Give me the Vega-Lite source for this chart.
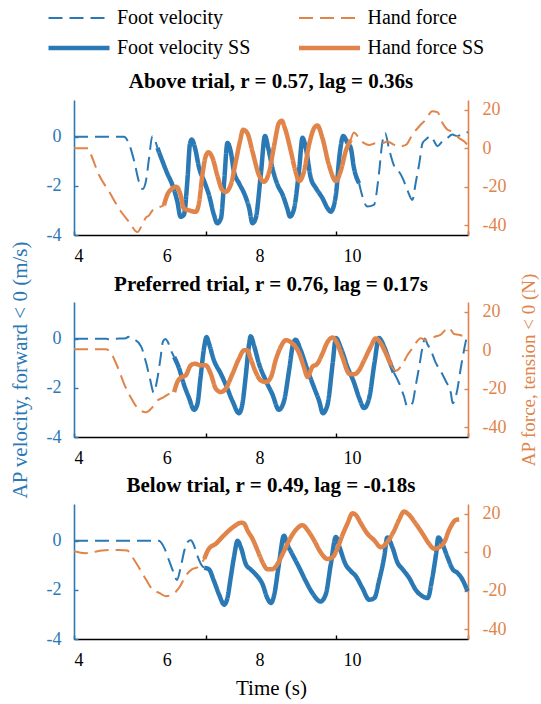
{
"$schema":"https://vega.github.io/schema/vega-lite/v6.json",
"padding":{"left":9,"top":8,"right":3,"bottom":5},
"config":{"font":"Liberation Serif","view":{"stroke":null},"axis":{"grid":false},
 "legend":{"orient":"none","direction":"horizontal","legendX":-35.5,"legendY":-92,"columns":2,"columnPadding":38.5,"rowPadding":10,"symbolType":"M0,0H12.2","symbolSize":100,"labelFontSize":20,"labelFont":"Liberation Serif","labelColor":"black","labelOffset":58.5,"labelLimit":300,"padding":0}},
"datasets":{"d":[
{"p":1,"s":"Foot velocity","g":"a","t":4.0,"y":0},{"p":1,"s":"Foot velocity","g":"a","t":5.08,"y":0},{"p":1,"s":"Foot velocity","g":"a","t":5.19,"y":-0.31},{"p":1,"s":"Foot velocity","g":"a","t":5.30,"y":-1.0},{"p":1,"s":"Foot velocity","g":"a","t":5.40,"y":-1.82},{"p":1,"s":"Foot velocity","g":"a","t":5.48,"y":-2.13},{"p":1,"s":"Foot velocity","g":"a","t":5.55,"y":-1.82},{"p":1,"s":"Foot velocity","g":"a","t":5.62,"y":-0.86},{"p":1,"s":"Foot velocity","g":"a","t":5.69,"y":0.03},{"p":1,"s":"Foot velocity","g":"a","t":5.75,"y":-0.15},{"p":1,"s":"Foot velocity","g":"a","t":5.80,"y":-0.45},
{"p":1,"s":"Foot velocity SS","g":"s","t":5.80,"y":-0.45},{"p":1,"s":"Foot velocity SS","g":"s","t":5.91,"y":-1.0},{"p":1,"s":"Foot velocity SS","g":"s","t":6.01,"y":-1.48},{"p":1,"s":"Foot velocity SS","g":"s","t":6.12,"y":-1.95},{"p":1,"s":"Foot velocity SS","g":"s","t":6.23,"y":-2.64},{"p":1,"s":"Foot velocity SS","g":"s","t":6.30,"y":-3.26},{"p":1,"s":"Foot velocity SS","g":"s","t":6.37,"y":-3.18},{"p":1,"s":"Foot velocity SS","g":"s","t":6.45,"y":-1.68},{"p":1,"s":"Foot velocity SS","g":"s","t":6.50,"y":-0.31},{"p":1,"s":"Foot velocity SS","g":"s","t":6.54,"y":-0.11},{"p":1,"s":"Foot velocity SS","g":"s","t":6.61,"y":-0.45},{"p":1,"s":"Foot velocity SS","g":"s","t":6.70,"y":-1.27},{"p":1,"s":"Foot velocity SS","g":"s","t":6.81,"y":-1.82},{"p":1,"s":"Foot velocity SS","g":"s","t":6.91,"y":-2.36},{"p":1,"s":"Foot velocity SS","g":"s","t":7.02,"y":-3.18},{"p":1,"s":"Foot velocity SS","g":"s","t":7.09,"y":-3.52},{"p":1,"s":"Foot velocity SS","g":"s","t":7.17,"y":-3.32},{"p":1,"s":"Foot velocity SS","g":"s","t":7.24,"y":-1.82},{"p":1,"s":"Foot velocity SS","g":"s","t":7.31,"y":-0.25},{"p":1,"s":"Foot velocity SS","g":"s","t":7.38,"y":-0.59},{"p":1,"s":"Foot velocity SS","g":"s","t":7.45,"y":-1.41},{"p":1,"s":"Foot velocity SS","g":"s","t":7.56,"y":-1.89},{"p":1,"s":"Foot velocity SS","g":"s","t":7.67,"y":-2.30},{"p":1,"s":"Foot velocity SS","g":"s","t":7.78,"y":-2.91},{"p":1,"s":"Foot velocity SS","g":"s","t":7.85,"y":-3.52},{"p":1,"s":"Foot velocity SS","g":"s","t":7.92,"y":-3.32},{"p":1,"s":"Foot velocity SS","g":"s","t":8.03,"y":-1.54},{"p":1,"s":"Foot velocity SS","g":"s","t":8.12,"y":0.03},{"p":1,"s":"Foot velocity SS","g":"s","t":8.19,"y":-0.45},{"p":1,"s":"Foot velocity SS","g":"s","t":8.28,"y":-1.27},{"p":1,"s":"Foot velocity SS","g":"s","t":8.39,"y":-1.95},{"p":1,"s":"Foot velocity SS","g":"s","t":8.50,"y":-2.36},{"p":1,"s":"Foot velocity SS","g":"s","t":8.60,"y":-2.91},{"p":1,"s":"Foot velocity SS","g":"s","t":8.66,"y":-3.25},{"p":1,"s":"Foot velocity SS","g":"s","t":8.75,"y":-2.91},{"p":1,"s":"Foot velocity SS","g":"s","t":8.86,"y":-1.27},{"p":1,"s":"Foot velocity SS","g":"s","t":8.93,"y":-0.04},{"p":1,"s":"Foot velocity SS","g":"s","t":9.00,"y":-0.45},{"p":1,"s":"Foot velocity SS","g":"s","t":9.11,"y":-1.68},{"p":1,"s":"Foot velocity SS","g":"s","t":9.22,"y":-2.09},{"p":1,"s":"Foot velocity SS","g":"s","t":9.36,"y":-2.50},{"p":1,"s":"Foot velocity SS","g":"s","t":9.47,"y":-2.91},{"p":1,"s":"Foot velocity SS","g":"s","t":9.54,"y":-3.05},{"p":1,"s":"Foot velocity SS","g":"s","t":9.65,"y":-2.36},{"p":1,"s":"Foot velocity SS","g":"s","t":9.73,"y":-0.72},{"p":1,"s":"Foot velocity SS","g":"s","t":9.81,"y":0.03},{"p":1,"s":"Foot velocity SS","g":"s","t":9.90,"y":-0.25},{"p":1,"s":"Foot velocity SS","g":"s","t":9.97,"y":-0.45},{"p":1,"s":"Foot velocity SS","g":"s","t":10.04,"y":-1.27},{"p":1,"s":"Foot velocity SS","g":"s","t":10.15,"y":-1.89},
{"p":1,"s":"Foot velocity","g":"b","t":10.15,"y":-1.89},{"p":1,"s":"Foot velocity","g":"b","t":10.33,"y":-2.84},{"p":1,"s":"Foot velocity","g":"b","t":10.47,"y":-2.77},{"p":1,"s":"Foot velocity","g":"b","t":10.58,"y":-1.48},{"p":1,"s":"Foot velocity","g":"b","t":10.65,"y":-0.25},{"p":1,"s":"Foot velocity","g":"b","t":10.71,"y":0.16},{"p":1,"s":"Foot velocity","g":"b","t":10.80,"y":-0.52},{"p":1,"s":"Foot velocity","g":"b","t":10.91,"y":-1.20},{"p":1,"s":"Foot velocity","g":"b","t":10.98,"y":-1.34},{"p":1,"s":"Foot velocity","g":"b","t":11.09,"y":-1.68},{"p":1,"s":"Foot velocity","g":"b","t":11.19,"y":-2.16},{"p":1,"s":"Foot velocity","g":"b","t":11.30,"y":-2.57},{"p":1,"s":"Foot velocity","g":"b","t":11.37,"y":-1.89},{"p":1,"s":"Foot velocity","g":"b","t":11.45,"y":-1.07},{"p":1,"s":"Foot velocity","g":"b","t":11.52,"y":-0.25},{"p":1,"s":"Foot velocity","g":"b","t":11.59,"y":-0.11},{"p":1,"s":"Foot velocity","g":"b","t":11.70,"y":0.03},{"p":1,"s":"Foot velocity","g":"b","t":11.77,"y":-0.18},{"p":1,"s":"Foot velocity","g":"b","t":11.84,"y":-0.38},{"p":1,"s":"Foot velocity","g":"b","t":11.95,"y":-0.18},{"p":1,"s":"Foot velocity","g":"b","t":12.06,"y":-0.04},{"p":1,"s":"Foot velocity","g":"b","t":12.16,"y":0.09},{"p":1,"s":"Foot velocity","g":"b","t":12.27,"y":0.03},{"p":1,"s":"Foot velocity","g":"b","t":12.42,"y":0.16},{"p":1,"s":"Foot velocity","g":"b","t":12.5,"y":0.19},
{"p":1,"s":"Hand force","g":"a","t":4.0,"y":0},{"p":1,"s":"Hand force","g":"a","t":4.3,"y":0},{"p":1,"s":"Hand force","g":"a","t":4.36,"y":-3},{"p":1,"s":"Hand force","g":"a","t":4.54,"y":-13.9},{"p":1,"s":"Hand force","g":"a","t":4.76,"y":-22.6},{"p":1,"s":"Hand force","g":"a","t":4.97,"y":-31.3},{"p":1,"s":"Hand force","g":"a","t":5.19,"y":-38.3},{"p":1,"s":"Hand force","g":"a","t":5.37,"y":-43.5},{"p":1,"s":"Hand force","g":"a","t":5.48,"y":-39.1},{"p":1,"s":"Hand force","g":"a","t":5.55,"y":-36},{"p":1,"s":"Hand force","g":"a","t":5.62,"y":-34.8},{"p":1,"s":"Hand force","g":"a","t":5.70,"y":-32},{"p":1,"s":"Hand force","g":"a","t":5.76,"y":-31.3},{"p":1,"s":"Hand force","g":"a","t":5.85,"y":-30.5},{"p":1,"s":"Hand force","g":"a","t":5.94,"y":-29.6},
{"p":1,"s":"Hand force SS","g":"s","t":5.94,"y":-29.6},{"p":1,"s":"Hand force SS","g":"s","t":6.01,"y":-24.3},{"p":1,"s":"Hand force SS","g":"s","t":6.12,"y":-20.9},{"p":1,"s":"Hand force SS","g":"s","t":6.21,"y":-20.0},{"p":1,"s":"Hand force SS","g":"s","t":6.30,"y":-24.3},{"p":1,"s":"Hand force SS","g":"s","t":6.37,"y":-31.3},{"p":1,"s":"Hand force SS","g":"s","t":6.48,"y":-32.2},{"p":1,"s":"Hand force SS","g":"s","t":6.63,"y":-33.0},{"p":1,"s":"Hand force SS","g":"s","t":6.70,"y":-27.8},{"p":1,"s":"Hand force SS","g":"s","t":6.77,"y":-13.9},{"p":1,"s":"Hand force SS","g":"s","t":6.84,"y":-4.3},{"p":1,"s":"Hand force SS","g":"s","t":6.90,"y":-2.1},{"p":1,"s":"Hand force SS","g":"s","t":6.99,"y":-5.2},{"p":1,"s":"Hand force SS","g":"s","t":7.09,"y":-13.9},{"p":1,"s":"Hand force SS","g":"s","t":7.20,"y":-21.7},{"p":1,"s":"Hand force SS","g":"s","t":7.27,"y":-22.6},{"p":1,"s":"Hand force SS","g":"s","t":7.38,"y":-19.1},{"p":1,"s":"Hand force SS","g":"s","t":7.49,"y":-7.0},{"p":1,"s":"Hand force SS","g":"s","t":7.58,"y":3.5},{"p":1,"s":"Hand force SS","g":"s","t":7.65,"y":9.6},{"p":1,"s":"Hand force SS","g":"s","t":7.74,"y":7.8},{"p":1,"s":"Hand force SS","g":"s","t":7.85,"y":-1.7},{"p":1,"s":"Hand force SS","g":"s","t":7.99,"y":-13.9},{"p":1,"s":"Hand force SS","g":"s","t":8.10,"y":-17.4},{"p":1,"s":"Hand force SS","g":"s","t":8.21,"y":-12.2},{"p":1,"s":"Hand force SS","g":"s","t":8.32,"y":1.7},{"p":1,"s":"Hand force SS","g":"s","t":8.42,"y":13.0},{"p":1,"s":"Hand force SS","g":"s","t":8.48,"y":14.3},{"p":1,"s":"Hand force SS","g":"s","t":8.55,"y":10.4},{"p":1,"s":"Hand force SS","g":"s","t":8.68,"y":-1.7},{"p":1,"s":"Hand force SS","g":"s","t":8.78,"y":-12.2},{"p":1,"s":"Hand force SS","g":"s","t":8.86,"y":-17.0},{"p":1,"s":"Hand force SS","g":"s","t":8.96,"y":-12.2},{"p":1,"s":"Hand force SS","g":"s","t":9.07,"y":1.7},{"p":1,"s":"Hand force SS","g":"s","t":9.18,"y":10.4},{"p":1,"s":"Hand force SS","g":"s","t":9.25,"y":11.8},{"p":1,"s":"Hand force SS","g":"s","t":9.36,"y":5.2},{"p":1,"s":"Hand force SS","g":"s","t":9.50,"y":-8.7},{"p":1,"s":"Hand force SS","g":"s","t":9.65,"y":-17.0},{"p":1,"s":"Hand force SS","g":"s","t":9.76,"y":-11.3},{"p":1,"s":"Hand force SS","g":"s","t":9.86,"y":-1.7},{"p":1,"s":"Hand force SS","g":"s","t":9.97,"y":4.3},
{"p":1,"s":"Hand force","g":"b","t":9.97,"y":4.3},{"p":1,"s":"Hand force","g":"b","t":10.04,"y":8.2},{"p":1,"s":"Hand force","g":"b","t":10.15,"y":5.2},{"p":1,"s":"Hand force","g":"b","t":10.26,"y":2.6},{"p":1,"s":"Hand force","g":"b","t":10.37,"y":1.7},{"p":1,"s":"Hand force","g":"b","t":10.51,"y":2.6},{"p":1,"s":"Hand force","g":"b","t":10.65,"y":2.6},{"p":1,"s":"Hand force","g":"b","t":10.76,"y":3.5},{"p":1,"s":"Hand force","g":"b","t":10.91,"y":1.7},{"p":1,"s":"Hand force","g":"b","t":11.01,"y":0.9},{"p":1,"s":"Hand force","g":"b","t":11.16,"y":1.7},{"p":1,"s":"Hand force","g":"b","t":11.30,"y":7.0},{"p":1,"s":"Hand force","g":"b","t":11.45,"y":11.4},{"p":1,"s":"Hand force","g":"b","t":11.59,"y":14.9},{"p":1,"s":"Hand force","g":"b","t":11.73,"y":19.2},{"p":1,"s":"Hand force","g":"b","t":11.84,"y":18.7},{"p":1,"s":"Hand force","g":"b","t":11.95,"y":13.1},{"p":1,"s":"Hand force","g":"b","t":12.06,"y":9.6},{"p":1,"s":"Hand force","g":"b","t":12.16,"y":8.7},{"p":1,"s":"Hand force","g":"b","t":12.31,"y":5.2},{"p":1,"s":"Hand force","g":"b","t":12.42,"y":3.5},{"p":1,"s":"Hand force","g":"b","t":12.49,"y":1.7},

{"p":2,"s":"Foot velocity","g":"a","t":4.0,"y":0},{"p":2,"s":"Foot velocity","g":"a","t":4.7,"y":0},{"p":2,"s":"Foot velocity","g":"a","t":4.78,"y":-0.03},{"p":2,"s":"Foot velocity","g":"a","t":4.85,"y":0},{"p":2,"s":"Foot velocity","g":"a","t":5.12,"y":0.02},{"p":2,"s":"Foot velocity","g":"a","t":5.17,"y":0.08},{"p":2,"s":"Foot velocity","g":"a","t":5.22,"y":0},{"p":2,"s":"Foot velocity","g":"a","t":5.32,"y":-0.05},{"p":2,"s":"Foot velocity","g":"a","t":5.45,"y":-0.32},{"p":2,"s":"Foot velocity","g":"a","t":5.56,"y":-1.01},{"p":2,"s":"Foot velocity","g":"a","t":5.64,"y":-1.64},{"p":2,"s":"Foot velocity","g":"a","t":5.72,"y":-2.19},{"p":2,"s":"Foot velocity","g":"a","t":5.79,"y":-1.71},{"p":2,"s":"Foot velocity","g":"a","t":5.86,"y":-0.87},{"p":2,"s":"Foot velocity","g":"a","t":5.92,"y":-0.11},{"p":2,"s":"Foot velocity","g":"a","t":5.97,"y":-0.01},{"p":2,"s":"Foot velocity","g":"a","t":6.02,"y":-0.11},{"p":2,"s":"Foot velocity","g":"a","t":6.09,"y":-0.46},{"p":2,"s":"Foot velocity","g":"a","t":6.16,"y":-0.74},
{"p":2,"s":"Foot velocity SS","g":"s","t":6.16,"y":-0.74},{"p":2,"s":"Foot velocity SS","g":"s","t":6.27,"y":-1.22},{"p":2,"s":"Foot velocity SS","g":"s","t":6.37,"y":-1.85},{"p":2,"s":"Foot velocity SS","g":"s","t":6.48,"y":-2.40},{"p":2,"s":"Foot velocity SS","g":"s","t":6.59,"y":-2.89},{"p":2,"s":"Foot velocity SS","g":"s","t":6.66,"y":-2.68},{"p":2,"s":"Foot velocity SS","g":"s","t":6.73,"y":-1.57},{"p":2,"s":"Foot velocity SS","g":"s","t":6.81,"y":-0.32},{"p":2,"s":"Foot velocity SS","g":"s","t":6.86,"y":0.07},{"p":2,"s":"Foot velocity SS","g":"s","t":6.91,"y":-0.18},{"p":2,"s":"Foot velocity SS","g":"s","t":7.02,"y":-0.88},{"p":2,"s":"Foot velocity SS","g":"s","t":7.17,"y":-1.43},{"p":2,"s":"Foot velocity SS","g":"s","t":7.27,"y":-1.85},{"p":2,"s":"Foot velocity SS","g":"s","t":7.42,"y":-2.54},{"p":2,"s":"Foot velocity SS","g":"s","t":7.56,"y":-3.03},{"p":2,"s":"Foot velocity SS","g":"s","t":7.63,"y":-2.68},{"p":2,"s":"Foot velocity SS","g":"s","t":7.71,"y":-1.43},{"p":2,"s":"Foot velocity SS","g":"s","t":7.78,"y":-0.18},{"p":2,"s":"Foot velocity SS","g":"s","t":7.81,"y":0.10},{"p":2,"s":"Foot velocity SS","g":"s","t":7.89,"y":-0.32},{"p":2,"s":"Foot velocity SS","g":"s","t":7.99,"y":-1.01},{"p":2,"s":"Foot velocity SS","g":"s","t":8.14,"y":-1.71},{"p":2,"s":"Foot velocity SS","g":"s","t":8.28,"y":-2.26},{"p":2,"s":"Foot velocity SS","g":"s","t":8.42,"y":-2.89},{"p":2,"s":"Foot velocity SS","g":"s","t":8.53,"y":-2.54},{"p":2,"s":"Foot velocity SS","g":"s","t":8.64,"y":-1.29},{"p":2,"s":"Foot velocity SS","g":"s","t":8.73,"y":-0.18},{"p":2,"s":"Foot velocity SS","g":"s","t":8.78,"y":-0.04},{"p":2,"s":"Foot velocity SS","g":"s","t":8.89,"y":-0.46},{"p":2,"s":"Foot velocity SS","g":"s","t":9.04,"y":-1.29},{"p":2,"s":"Foot velocity SS","g":"s","t":9.18,"y":-1.99},{"p":2,"s":"Foot velocity SS","g":"s","t":9.29,"y":-2.54},{"p":2,"s":"Foot velocity SS","g":"s","t":9.37,"y":-3.03},{"p":2,"s":"Foot velocity SS","g":"s","t":9.47,"y":-2.68},{"p":2,"s":"Foot velocity SS","g":"s","t":9.58,"y":-1.01},{"p":2,"s":"Foot velocity SS","g":"s","t":9.65,"y":0.03},{"p":2,"s":"Foot velocity SS","g":"s","t":9.76,"y":-0.39},{"p":2,"s":"Foot velocity SS","g":"s","t":9.90,"y":-1.15},{"p":2,"s":"Foot velocity SS","g":"s","t":10.04,"y":-1.78},{"p":2,"s":"Foot velocity SS","g":"s","t":10.15,"y":-2.40},{"p":2,"s":"Foot velocity SS","g":"s","t":10.26,"y":-2.82},{"p":2,"s":"Foot velocity SS","g":"s","t":10.37,"y":-2.40},{"p":2,"s":"Foot velocity SS","g":"s","t":10.48,"y":-1.01},{"p":2,"s":"Foot velocity SS","g":"s","t":10.58,"y":0.03},{"p":2,"s":"Foot velocity SS","g":"s","t":10.69,"y":-0.32},{"p":2,"s":"Foot velocity SS","g":"s","t":10.80,"y":-0.88},{"p":2,"s":"Foot velocity SS","g":"s","t":10.90,"y":-1.37},
{"p":2,"s":"Foot velocity","g":"b","t":10.90,"y":-1.37},{"p":2,"s":"Foot velocity","g":"b","t":11.01,"y":-1.79},{"p":2,"s":"Foot velocity","g":"b","t":11.12,"y":-2.35},{"p":2,"s":"Foot velocity","g":"b","t":11.19,"y":-2.76},{"p":2,"s":"Foot velocity","g":"b","t":11.30,"y":-2.62},{"p":2,"s":"Foot velocity","g":"b","t":11.37,"y":-1.93},{"p":2,"s":"Foot velocity","g":"b","t":11.45,"y":-1.10},{"p":2,"s":"Foot velocity","g":"b","t":11.52,"y":-0.33},{"p":2,"s":"Foot velocity","g":"b","t":11.57,"y":0.01},{"p":2,"s":"Foot velocity","g":"b","t":11.62,"y":-0.20},{"p":2,"s":"Foot velocity","g":"b","t":11.70,"y":-0.47},{"p":2,"s":"Foot velocity","g":"b","t":11.80,"y":-0.96},{"p":2,"s":"Foot velocity","g":"b","t":11.91,"y":-1.31},{"p":2,"s":"Foot velocity","g":"b","t":12.02,"y":-1.72},{"p":2,"s":"Foot velocity","g":"b","t":12.13,"y":-2.21},{"p":2,"s":"Foot velocity","g":"b","t":12.17,"y":-2.62},{"p":2,"s":"Foot velocity","g":"b","t":12.27,"y":-2.07},{"p":2,"s":"Foot velocity","g":"b","t":12.34,"y":-1.24},{"p":2,"s":"Foot velocity","g":"b","t":12.42,"y":-0.40},{"p":2,"s":"Foot velocity","g":"b","t":12.49,"y":0.22},
{"p":2,"s":"Hand force","g":"a","t":4.0,"y":0.5},{"p":2,"s":"Hand force","g":"a","t":4.68,"y":0.5},{"p":2,"s":"Hand force","g":"a","t":4.79,"y":-0.9},{"p":2,"s":"Hand force","g":"a","t":4.86,"y":-4.3},{"p":2,"s":"Hand force","g":"a","t":4.97,"y":-10.4},{"p":2,"s":"Hand force","g":"a","t":5.08,"y":-17.4},{"p":2,"s":"Hand force","g":"a","t":5.22,"y":-24.3},{"p":2,"s":"Hand force","g":"a","t":5.33,"y":-28.7},{"p":2,"s":"Hand force","g":"a","t":5.44,"y":-31.3},{"p":2,"s":"Hand force","g":"a","t":5.55,"y":-32.2},{"p":2,"s":"Hand force","g":"a","t":5.66,"y":-30.4},{"p":2,"s":"Hand force","g":"a","t":5.80,"y":-26.1},{"p":2,"s":"Hand force","g":"a","t":5.94,"y":-24.3},{"p":2,"s":"Hand force","g":"a","t":6.05,"y":-22.6},{"p":2,"s":"Hand force","g":"a","t":6.16,"y":-21.7},
{"p":2,"s":"Hand force SS","g":"s","t":6.16,"y":-21.7},{"p":2,"s":"Hand force SS","g":"s","t":6.23,"y":-16.5},{"p":2,"s":"Hand force SS","g":"s","t":6.30,"y":-14.3},{"p":2,"s":"Hand force SS","g":"s","t":6.41,"y":-13.0},{"p":2,"s":"Hand force SS","g":"s","t":6.52,"y":-7.8},{"p":2,"s":"Hand force SS","g":"s","t":6.61,"y":-7.0},{"p":2,"s":"Hand force SS","g":"s","t":6.73,"y":-7.8},{"p":2,"s":"Hand force SS","g":"s","t":6.84,"y":-7.8},{"p":2,"s":"Hand force SS","g":"s","t":6.95,"y":-12.2},{"p":2,"s":"Hand force SS","g":"s","t":7.06,"y":-20.0},{"p":2,"s":"Hand force SS","g":"s","t":7.17,"y":-21.7},{"p":2,"s":"Hand force SS","g":"s","t":7.27,"y":-20.0},{"p":2,"s":"Hand force SS","g":"s","t":7.42,"y":-12.2},{"p":2,"s":"Hand force SS","g":"s","t":7.56,"y":-4.3},{"p":2,"s":"Hand force SS","g":"s","t":7.67,"y":0.0},{"p":2,"s":"Hand force SS","g":"s","t":7.74,"y":0.0},{"p":2,"s":"Hand force SS","g":"s","t":7.81,"y":-4.3},{"p":2,"s":"Hand force SS","g":"s","t":7.92,"y":-11.3},{"p":2,"s":"Hand force SS","g":"s","t":8.03,"y":-15.7},{"p":2,"s":"Hand force SS","g":"s","t":8.14,"y":-16.5},{"p":2,"s":"Hand force SS","g":"s","t":8.25,"y":-13.9},{"p":2,"s":"Hand force SS","g":"s","t":8.35,"y":-5.2},{"p":2,"s":"Hand force SS","g":"s","t":8.46,"y":1.7},{"p":2,"s":"Hand force SS","g":"s","t":8.57,"y":5.2},{"p":2,"s":"Hand force SS","g":"s","t":8.71,"y":3.5},{"p":2,"s":"Hand force SS","g":"s","t":8.86,"y":-1.7},{"p":2,"s":"Hand force SS","g":"s","t":8.96,"y":-8.7},{"p":2,"s":"Hand force SS","g":"s","t":9.04,"y":-13.9},{"p":2,"s":"Hand force SS","g":"s","t":9.14,"y":-8.7},{"p":2,"s":"Hand force SS","g":"s","t":9.25,"y":-7.0},{"p":2,"s":"Hand force SS","g":"s","t":9.36,"y":-1.7},{"p":2,"s":"Hand force SS","g":"s","t":9.47,"y":4.3},{"p":2,"s":"Hand force SS","g":"s","t":9.58,"y":6.6},{"p":2,"s":"Hand force SS","g":"s","t":9.68,"y":3.5},{"p":2,"s":"Hand force SS","g":"s","t":9.79,"y":-3.5},{"p":2,"s":"Hand force SS","g":"s","t":9.94,"y":-12.2},{"p":2,"s":"Hand force SS","g":"s","t":10.04,"y":-12.5},{"p":2,"s":"Hand force SS","g":"s","t":10.15,"y":-10.4},{"p":2,"s":"Hand force SS","g":"s","t":10.26,"y":-5.2},{"p":2,"s":"Hand force SS","g":"s","t":10.40,"y":1.7},{"p":2,"s":"Hand force SS","g":"s","t":10.51,"y":6.1},{"p":2,"s":"Hand force SS","g":"s","t":10.62,"y":3.5},{"p":2,"s":"Hand force SS","g":"s","t":10.73,"y":-1.7},{"p":2,"s":"Hand force SS","g":"s","t":10.84,"y":-7.8},
{"p":2,"s":"Hand force","g":"b","t":10.84,"y":-7.8},{"p":2,"s":"Hand force","g":"b","t":10.94,"y":-10.7},{"p":2,"s":"Hand force","g":"b","t":11.09,"y":-7.1},{"p":2,"s":"Hand force","g":"b","t":11.19,"y":-2.7},{"p":2,"s":"Hand force","g":"b","t":11.27,"y":0},{"p":2,"s":"Hand force","g":"b","t":11.37,"y":3.6},{"p":2,"s":"Hand force","g":"b","t":11.48,"y":6.2},{"p":2,"s":"Hand force","g":"b","t":11.59,"y":5.3},{"p":2,"s":"Hand force","g":"b","t":11.70,"y":6.2},{"p":2,"s":"Hand force","g":"b","t":11.80,"y":7.1},{"p":2,"s":"Hand force","g":"b","t":11.91,"y":8.0},{"p":2,"s":"Hand force","g":"b","t":12.02,"y":10.7},{"p":2,"s":"Hand force","g":"b","t":12.09,"y":11.6},{"p":2,"s":"Hand force","g":"b","t":12.20,"y":8.4},{"p":2,"s":"Hand force","g":"b","t":12.31,"y":8.0},{"p":2,"s":"Hand force","g":"b","t":12.42,"y":7.1},

{"p":3,"s":"Foot velocity","g":"a","t":4.0,"y":0},{"p":3,"s":"Foot velocity","g":"a","t":5.83,"y":0},{"p":3,"s":"Foot velocity","g":"a","t":5.95,"y":-0.3},{"p":3,"s":"Foot velocity","g":"a","t":6.05,"y":-0.8},{"p":3,"s":"Foot velocity","g":"a","t":6.15,"y":-1.3},{"p":3,"s":"Foot velocity","g":"a","t":6.22,"y":-1.6},{"p":3,"s":"Foot velocity","g":"a","t":6.30,"y":-1.1},{"p":3,"s":"Foot velocity","g":"a","t":6.38,"y":-0.4},{"p":3,"s":"Foot velocity","g":"a","t":6.45,"y":-0.05},{"p":3,"s":"Foot velocity","g":"a","t":6.52,"y":0.02},{"p":3,"s":"Foot velocity","g":"a","t":6.58,"y":-0.15},{"p":3,"s":"Foot velocity","g":"a","t":6.66,"y":-0.6},{"p":3,"s":"Foot velocity","g":"a","t":6.74,"y":-0.95},{"p":3,"s":"Foot velocity","g":"a","t":6.81,"y":-1.1},
{"p":3,"s":"Foot velocity SS","g":"s","t":6.81,"y":-1.10},{"p":3,"s":"Foot velocity SS","g":"s","t":6.91,"y":-1.16},{"p":3,"s":"Foot velocity SS","g":"s","t":7.02,"y":-1.64},{"p":3,"s":"Foot velocity SS","g":"s","t":7.13,"y":-2.19},{"p":3,"s":"Foot velocity SS","g":"s","t":7.24,"y":-2.60},{"p":3,"s":"Foot velocity SS","g":"s","t":7.31,"y":-2.33},{"p":3,"s":"Foot velocity SS","g":"s","t":7.38,"y":-1.51},{"p":3,"s":"Foot velocity SS","g":"s","t":7.45,"y":-0.68},{"p":3,"s":"Foot velocity SS","g":"s","t":7.53,"y":0.0},{"p":3,"s":"Foot velocity SS","g":"s","t":7.60,"y":-0.27},{"p":3,"s":"Foot velocity SS","g":"s","t":7.71,"y":-0.96},{"p":3,"s":"Foot velocity SS","g":"s","t":7.81,"y":-1.16},{"p":3,"s":"Foot velocity SS","g":"s","t":7.92,"y":-1.37},{"p":3,"s":"Foot velocity SS","g":"s","t":8.07,"y":-1.78},{"p":3,"s":"Foot velocity SS","g":"s","t":8.17,"y":-2.33},{"p":3,"s":"Foot velocity SS","g":"s","t":8.25,"y":-2.53},{"p":3,"s":"Foot velocity SS","g":"s","t":8.32,"y":-2.19},{"p":3,"s":"Foot velocity SS","g":"s","t":8.42,"y":-0.96},{"p":3,"s":"Foot velocity SS","g":"s","t":8.53,"y":0.21},{"p":3,"s":"Foot velocity SS","g":"s","t":8.60,"y":-0.14},{"p":3,"s":"Foot velocity SS","g":"s","t":8.71,"y":-0.55},{"p":3,"s":"Foot velocity SS","g":"s","t":8.86,"y":-1.10},{"p":3,"s":"Foot velocity SS","g":"s","t":9.00,"y":-1.64},{"p":3,"s":"Foot velocity SS","g":"s","t":9.14,"y":-2.12},{"p":3,"s":"Foot velocity SS","g":"s","t":9.32,"y":-2.47},{"p":3,"s":"Foot velocity SS","g":"s","t":9.43,"y":-2.19},{"p":3,"s":"Foot velocity SS","g":"s","t":9.54,"y":-0.96},{"p":3,"s":"Foot velocity SS","g":"s","t":9.65,"y":0.16},{"p":3,"s":"Foot velocity SS","g":"s","t":9.73,"y":-0.27},{"p":3,"s":"Foot velocity SS","g":"s","t":9.86,"y":-0.96},{"p":3,"s":"Foot velocity SS","g":"s","t":9.97,"y":-1.23},{"p":3,"s":"Foot velocity SS","g":"s","t":10.08,"y":-1.44},{"p":3,"s":"Foot velocity SS","g":"s","t":10.22,"y":-1.92},{"p":3,"s":"Foot velocity SS","g":"s","t":10.37,"y":-2.40},{"p":3,"s":"Foot velocity SS","g":"s","t":10.48,"y":-2.33},{"p":3,"s":"Foot velocity SS","g":"s","t":10.58,"y":-1.64},{"p":3,"s":"Foot velocity SS","g":"s","t":10.69,"y":-0.68},{"p":3,"s":"Foot velocity SS","g":"s","t":10.76,"y":0.14},{"p":3,"s":"Foot velocity SS","g":"s","t":10.87,"y":-0.27},{"p":3,"s":"Foot velocity SS","g":"s","t":10.98,"y":-0.89},{"p":3,"s":"Foot velocity SS","g":"s","t":11.09,"y":-1.16},{"p":3,"s":"Foot velocity SS","g":"s","t":11.23,"y":-1.51},{"p":3,"s":"Foot velocity SS","g":"s","t":11.37,"y":-1.99},{"p":3,"s":"Foot velocity SS","g":"s","t":11.52,"y":-2.26},{"p":3,"s":"Foot velocity SS","g":"s","t":11.63,"y":-2.33},{"p":3,"s":"Foot velocity SS","g":"s","t":11.73,"y":-1.51},{"p":3,"s":"Foot velocity SS","g":"s","t":11.81,"y":-0.55},{"p":3,"s":"Foot velocity SS","g":"s","t":11.86,"y":0.14},{"p":3,"s":"Foot velocity SS","g":"s","t":11.95,"y":-0.14},{"p":3,"s":"Foot velocity SS","g":"s","t":12.06,"y":-0.68},{"p":3,"s":"Foot velocity SS","g":"s","t":12.17,"y":-1.16},{"p":3,"s":"Foot velocity SS","g":"s","t":12.27,"y":-1.30},{"p":3,"s":"Foot velocity SS","g":"s","t":12.38,"y":-1.58},{"p":3,"s":"Foot velocity SS","g":"s","t":12.49,"y":-2.05},
{"p":3,"s":"Hand force","g":"a","t":4.0,"y":0.5},{"p":3,"s":"Hand force","g":"a","t":4.25,"y":-0.5},{"p":3,"s":"Hand force","g":"a","t":4.40,"y":0},{"p":3,"s":"Hand force","g":"a","t":4.61,"y":0.9},{"p":3,"s":"Hand force","g":"a","t":4.97,"y":1.2},{"p":3,"s":"Hand force","g":"a","t":5.15,"y":0.9},{"p":3,"s":"Hand force","g":"a","t":5.26,"y":-2.6},{"p":3,"s":"Hand force","g":"a","t":5.40,"y":-7.9},{"p":3,"s":"Hand force","g":"a","t":5.55,"y":-14.0},{"p":3,"s":"Hand force","g":"a","t":5.69,"y":-19.3},{"p":3,"s":"Hand force","g":"a","t":5.84,"y":-21.1},{"p":3,"s":"Hand force","g":"a","t":5.98,"y":-22.8},{"p":3,"s":"Hand force","g":"a","t":6.12,"y":-21.9},{"p":3,"s":"Hand force","g":"a","t":6.27,"y":-18.4},{"p":3,"s":"Hand force","g":"a","t":6.41,"y":-12.3},{"p":3,"s":"Hand force","g":"a","t":6.55,"y":-8.8},{"p":3,"s":"Hand force","g":"a","t":6.66,"y":-7.9},{"p":3,"s":"Hand force","g":"a","t":6.81,"y":-3.5},
{"p":3,"s":"Hand force SS","g":"s","t":6.81,"y":-3.5},{"p":3,"s":"Hand force SS","g":"s","t":6.91,"y":1.8},{"p":3,"s":"Hand force SS","g":"s","t":7.06,"y":4.4},{"p":3,"s":"Hand force SS","g":"s","t":7.20,"y":7.9},{"p":3,"s":"Hand force SS","g":"s","t":7.35,"y":11.4},{"p":3,"s":"Hand force SS","g":"s","t":7.49,"y":14.0},{"p":3,"s":"Hand force SS","g":"s","t":7.60,"y":15.3},{"p":3,"s":"Hand force SS","g":"s","t":7.67,"y":14.9},{"p":3,"s":"Hand force SS","g":"s","t":7.74,"y":11.4},{"p":3,"s":"Hand force SS","g":"s","t":7.85,"y":7.0},{"p":3,"s":"Hand force SS","g":"s","t":7.96,"y":0.9},{"p":3,"s":"Hand force SS","g":"s","t":8.07,"y":-5.3},{"p":3,"s":"Hand force SS","g":"s","t":8.17,"y":-8.8},{"p":3,"s":"Hand force SS","g":"s","t":8.28,"y":-8.8},{"p":3,"s":"Hand force SS","g":"s","t":8.39,"y":-6.1},{"p":3,"s":"Hand force SS","g":"s","t":8.50,"y":-0.9},{"p":3,"s":"Hand force SS","g":"s","t":8.64,"y":6.1},{"p":3,"s":"Hand force SS","g":"s","t":8.78,"y":11.4},{"p":3,"s":"Hand force SS","g":"s","t":8.93,"y":14.0},{"p":3,"s":"Hand force SS","g":"s","t":9.04,"y":11.4},{"p":3,"s":"Hand force SS","g":"s","t":9.18,"y":6.1},{"p":3,"s":"Hand force SS","g":"s","t":9.32,"y":0},{"p":3,"s":"Hand force SS","g":"s","t":9.47,"y":-3.5},{"p":3,"s":"Hand force SS","g":"s","t":9.58,"y":-2.6},{"p":3,"s":"Hand force SS","g":"s","t":9.68,"y":1.8},{"p":3,"s":"Hand force SS","g":"s","t":9.79,"y":8.8},{"p":3,"s":"Hand force SS","g":"s","t":9.90,"y":14.9},{"p":3,"s":"Hand force SS","g":"s","t":10.01,"y":20.2},{"p":3,"s":"Hand force SS","g":"s","t":10.08,"y":19.3},{"p":3,"s":"Hand force SS","g":"s","t":10.19,"y":14.9},{"p":3,"s":"Hand force SS","g":"s","t":10.33,"y":9.6},{"p":3,"s":"Hand force SS","g":"s","t":10.48,"y":6.1},{"p":3,"s":"Hand force SS","g":"s","t":10.62,"y":2.6},{"p":3,"s":"Hand force SS","g":"s","t":10.76,"y":5.3},{"p":3,"s":"Hand force SS","g":"s","t":10.91,"y":11.4},{"p":3,"s":"Hand force SS","g":"s","t":11.01,"y":16.7},{"p":3,"s":"Hand force SS","g":"s","t":11.12,"y":21.1},{"p":3,"s":"Hand force SS","g":"s","t":11.23,"y":19.3},{"p":3,"s":"Hand force SS","g":"s","t":11.37,"y":14.9},{"p":3,"s":"Hand force SS","g":"s","t":11.52,"y":9.6},{"p":3,"s":"Hand force SS","g":"s","t":11.66,"y":4.4},{"p":3,"s":"Hand force SS","g":"s","t":11.77,"y":1.8},{"p":3,"s":"Hand force SS","g":"s","t":11.88,"y":2.6},{"p":3,"s":"Hand force SS","g":"s","t":11.99,"y":5.3},{"p":3,"s":"Hand force SS","g":"s","t":12.09,"y":11.4},{"p":3,"s":"Hand force SS","g":"s","t":12.24,"y":16.7},{"p":3,"s":"Hand force SS","g":"s","t":12.31,"y":17.0}
]},
"data":{"name":"d"},
"spacing":67,
"bounds":"flush",
"resolve":{"scale":{"color":"shared","strokeDash":"shared","strokeWidth":"shared"},"legend":{"color":"shared","strokeDash":"shared","strokeWidth":"shared"}},
"vconcat":[
{"title":{"text":"Above trial, r = 0.57, lag = 0.36s","fontSize":21,"fontWeight":"bold","font":"Liberation Serif","color":"black","offset":8},
 "width":394,"height":135,
 "layer":[
  {"transform":[{"filter":"datum.p==1 && (datum.s=='Foot velocity' || datum.s=='Foot velocity SS')"}],
   "mark":{"type":"line","interpolate":"monotone","strokeJoin":"round","strokeCap":"butt"},
   "encoding":{
    "x":{"field":"t","type":"quantitative","scale":{"domain":[4,12.5],"nice":false,"zero":false},"axis":{"orient":"bottom","values":[4,6.848,9.653,12.5],"labels":false,"title":null,"domainColor":"black","domainWidth":1.6,"tickColor":"black","tickWidth":1.4,"tickSize":-4}},
    "y":{"field":"y","type":"quantitative","scale":{"domain":[-4,1.5],"nice":false,"zero":false},"axis":{"values":[-4,-2,0],"labelExpr":"'' + datum.value","title":null,"domainColor":"#2a78b4","domainWidth":1.6,"tickColor":"#2a78b4","tickWidth":1.4,"tickSize":-4,"labelColor":"#2a78b4","labelFontSize":18,"labelFont":"Liberation Serif","labelPadding":17}},
    "color":{"field":"s","type":"nominal","scale":{"domain":["Foot velocity","Hand force","Foot velocity SS","Hand force SS"],"range":["#2a78b4","#e0844a","#2a78b4","#e0844a"]},"legend":{"title":null,"values":["Foot velocity","Hand force","Foot velocity SS","Hand force SS"]}},
    "strokeDash":{"field":"s","type":"nominal","scale":{"domain":["Foot velocity","Hand force","Foot velocity SS","Hand force SS"],"range":[[14,7],[14,7],[1,0],[1,0]]},"legend":{"title":null,"values":["Foot velocity","Hand force","Foot velocity SS","Hand force SS"]}},
    "strokeWidth":{"field":"s","type":"nominal","scale":{"type":"ordinal","domain":["Foot velocity","Hand force","Foot velocity SS","Hand force SS"],"range":[2,2,4.5,4.5]},"legend":{"title":null,"values":["Foot velocity","Hand force","Foot velocity SS","Hand force SS"]}},
    "detail":{"field":"g"}
   }},
  {"transform":[{"filter":"datum.p==1 && (datum.s=='Hand force' || datum.s=='Hand force SS')"}],
   "mark":{"type":"line","interpolate":"monotone","strokeJoin":"round","strokeCap":"butt"},
   "encoding":{
    "x":{"field":"t","type":"quantitative","axis":{"orient":"bottom","values":[4,6,8,10],"ticks":false,"domain":false,"title":null,"labelColor":"black","labelFontSize":18,"labelFont":"Liberation Serif","labelPadding":12}},
    "y":{"field":"y","type":"quantitative","scale":{"domain":[-45,25],"nice":false,"zero":false},"axis":{"orient":"right","values":[-40,-20,0,20],"labelExpr":"'' + datum.value","title":null,"domainColor":"#e0844a","domainWidth":1.6,"tickColor":"#e0844a","tickWidth":1.4,"tickSize":-4,"labelColor":"#e0844a","labelFontSize":18,"labelFont":"Liberation Serif","labelPadding":18}},
    "color":{"field":"s","type":"nominal","scale":{"domain":["Foot velocity","Hand force","Foot velocity SS","Hand force SS"],"range":["#2a78b4","#e0844a","#2a78b4","#e0844a"]},"legend":{"title":null,"values":["Foot velocity","Hand force","Foot velocity SS","Hand force SS"]}},
    "strokeDash":{"field":"s","type":"nominal","scale":{"domain":["Foot velocity","Hand force","Foot velocity SS","Hand force SS"],"range":[[14,7],[14,7],[1,0],[1,0]]},"legend":{"title":null,"values":["Foot velocity","Hand force","Foot velocity SS","Hand force SS"]}},
    "strokeWidth":{"field":"s","type":"nominal","scale":{"type":"ordinal","domain":["Foot velocity","Hand force","Foot velocity SS","Hand force SS"],"range":[2,2,4.5,4.5]},"legend":{"title":null,"values":["Foot velocity","Hand force","Foot velocity SS","Hand force SS"]}},
    "detail":{"field":"g"}
   }}
 ],
 "resolve":{"scale":{"y":"independent"},"axis":{"x":"independent"}}
},
{"title":{"text":"Preferred trial, r = 0.76, lag = 0.17s","fontSize":21,"fontWeight":"bold","font":"Liberation Serif","color":"black","offset":8,"dy":62},
 "width":394,"height":135,
 "layer":[
  {"transform":[{"filter":"datum.p==2 && (datum.s=='Foot velocity' || datum.s=='Foot velocity SS')"}],
   "mark":{"type":"line","interpolate":"monotone","strokeJoin":"round","strokeCap":"butt"},
   "encoding":{
    "x":{"field":"t","type":"quantitative","scale":{"domain":[4,12.5],"nice":false,"zero":false},"axis":{"orient":"bottom","values":[4,6.848,9.653,12.5],"labels":false,"title":null,"domainColor":"black","domainWidth":1.6,"tickColor":"black","tickWidth":1.4,"tickSize":-4}},
    "y":{"field":"y","type":"quantitative","scale":{"domain":[-4,1.5],"nice":false,"zero":false},"axis":{"values":[-4,-2,0],"labelExpr":"'' + datum.value","title":"AP velocity, forward < 0 (m/s)","titleColor":"#2a78b4","titleFontSize":21,"titleFontWeight":"normal","titleFont":"Liberation Serif","titlePadding":16,"domainColor":"#2a78b4","domainWidth":1.6,"tickColor":"#2a78b4","tickWidth":1.4,"tickSize":-4,"labelColor":"#2a78b4","labelFontSize":18,"labelFont":"Liberation Serif","labelPadding":17}},
    "color":{"field":"s","type":"nominal","scale":{"domain":["Foot velocity","Hand force","Foot velocity SS","Hand force SS"],"range":["#2a78b4","#e0844a","#2a78b4","#e0844a"]},"legend":{"title":null,"values":["Foot velocity","Hand force","Foot velocity SS","Hand force SS"]}},
    "strokeDash":{"field":"s","type":"nominal","scale":{"domain":["Foot velocity","Hand force","Foot velocity SS","Hand force SS"],"range":[[14,7],[14,7],[1,0],[1,0]]},"legend":{"title":null,"values":["Foot velocity","Hand force","Foot velocity SS","Hand force SS"]}},
    "strokeWidth":{"field":"s","type":"nominal","scale":{"type":"ordinal","domain":["Foot velocity","Hand force","Foot velocity SS","Hand force SS"],"range":[2,2,4.5,4.5]},"legend":{"title":null,"values":["Foot velocity","Hand force","Foot velocity SS","Hand force SS"]}},
    "detail":{"field":"g"}
   }},
  {"transform":[{"filter":"datum.p==2 && (datum.s=='Hand force' || datum.s=='Hand force SS')"}],
   "mark":{"type":"line","interpolate":"monotone","strokeJoin":"round","strokeCap":"butt"},
   "encoding":{
    "x":{"field":"t","type":"quantitative","axis":{"orient":"bottom","values":[4,6,8,10],"ticks":false,"domain":false,"title":null,"labelColor":"black","labelFontSize":18,"labelFont":"Liberation Serif","labelPadding":12}},
    "y":{"field":"y","type":"quantitative","scale":{"domain":[-45,25],"nice":false,"zero":false},"axis":{"orient":"right","values":[-40,-20,0,20],"labelExpr":"'' + datum.value","title":"AP force, tension < 0 (N)","titleAngle":270,"titleBaseline":"top","titleColor":"#e0844a","titleFontSize":19,"titleFontWeight":"normal","titleFont":"Liberation Serif","titlePadding":14,"domainColor":"#e0844a","domainWidth":1.6,"tickColor":"#e0844a","tickWidth":1.4,"tickSize":-4,"labelColor":"#e0844a","labelFontSize":18,"labelFont":"Liberation Serif","labelPadding":18}},
    "color":{"field":"s","type":"nominal","scale":{"domain":["Foot velocity","Hand force","Foot velocity SS","Hand force SS"],"range":["#2a78b4","#e0844a","#2a78b4","#e0844a"]},"legend":{"title":null,"values":["Foot velocity","Hand force","Foot velocity SS","Hand force SS"]}},
    "strokeDash":{"field":"s","type":"nominal","scale":{"domain":["Foot velocity","Hand force","Foot velocity SS","Hand force SS"],"range":[[14,7],[14,7],[1,0],[1,0]]},"legend":{"title":null,"values":["Foot velocity","Hand force","Foot velocity SS","Hand force SS"]}},
    "strokeWidth":{"field":"s","type":"nominal","scale":{"type":"ordinal","domain":["Foot velocity","Hand force","Foot velocity SS","Hand force SS"],"range":[2,2,4.5,4.5]},"legend":{"title":null,"values":["Foot velocity","Hand force","Foot velocity SS","Hand force SS"]}},
    "detail":{"field":"g"}
   }}
 ],
 "resolve":{"scale":{"y":"independent"},"axis":{"x":"independent"}}
},
{"title":{"text":"Below trial, r = 0.49, lag = -0.18s","fontSize":21,"fontWeight":"bold","font":"Liberation Serif","color":"black","offset":8},
 "width":394,"height":135,
 "layer":[
  {"transform":[{"filter":"datum.p==3 && (datum.s=='Foot velocity' || datum.s=='Foot velocity SS')"}],
   "mark":{"type":"line","interpolate":"monotone","strokeJoin":"round","strokeCap":"butt"},
   "encoding":{
    "x":{"field":"t","type":"quantitative","scale":{"domain":[4,12.5],"nice":false,"zero":false},"axis":{"orient":"bottom","values":[4,6.848,9.653,12.5],"labels":false,"title":null,"domainColor":"black","domainWidth":1.6,"tickColor":"black","tickWidth":1.4,"tickSize":-4}},
    "y":{"field":"y","type":"quantitative","scale":{"domain":[-4,1.5],"nice":false,"zero":false},"axis":{"values":[-4,-2,0],"labelExpr":"'' + datum.value","title":null,"domainColor":"#2a78b4","domainWidth":1.6,"tickColor":"#2a78b4","tickWidth":1.4,"tickSize":-4,"labelColor":"#2a78b4","labelFontSize":18,"labelFont":"Liberation Serif","labelPadding":17}},
    "color":{"field":"s","type":"nominal","scale":{"domain":["Foot velocity","Hand force","Foot velocity SS","Hand force SS"],"range":["#2a78b4","#e0844a","#2a78b4","#e0844a"]},"legend":{"title":null,"values":["Foot velocity","Hand force","Foot velocity SS","Hand force SS"]}},
    "strokeDash":{"field":"s","type":"nominal","scale":{"domain":["Foot velocity","Hand force","Foot velocity SS","Hand force SS"],"range":[[14,7],[14,7],[1,0],[1,0]]},"legend":{"title":null,"values":["Foot velocity","Hand force","Foot velocity SS","Hand force SS"]}},
    "strokeWidth":{"field":"s","type":"nominal","scale":{"type":"ordinal","domain":["Foot velocity","Hand force","Foot velocity SS","Hand force SS"],"range":[2,2,4.5,4.5]},"legend":{"title":null,"values":["Foot velocity","Hand force","Foot velocity SS","Hand force SS"]}},
    "detail":{"field":"g"}
   }},
  {"transform":[{"filter":"datum.p==3 && (datum.s=='Hand force' || datum.s=='Hand force SS')"}],
   "mark":{"type":"line","interpolate":"monotone","strokeJoin":"round","strokeCap":"butt"},
   "encoding":{
    "x":{"field":"t","type":"quantitative","axis":{"orient":"bottom","values":[4,6,8,10],"ticks":false,"domain":false,"title":"Time (s)","titleFontSize":21,"titleFontWeight":"normal","titleFont":"Liberation Serif","titleColor":"black","titlePadding":8,"labelColor":"black","labelFontSize":18,"labelFont":"Liberation Serif","labelPadding":12}},
    "y":{"field":"y","type":"quantitative","scale":{"domain":[-45,25],"nice":false,"zero":false},"axis":{"orient":"right","values":[-40,-20,0,20],"labelExpr":"'' + datum.value","title":null,"domainColor":"#e0844a","domainWidth":1.6,"tickColor":"#e0844a","tickWidth":1.4,"tickSize":-4,"labelColor":"#e0844a","labelFontSize":18,"labelFont":"Liberation Serif","labelPadding":18}},
    "color":{"field":"s","type":"nominal","scale":{"domain":["Foot velocity","Hand force","Foot velocity SS","Hand force SS"],"range":["#2a78b4","#e0844a","#2a78b4","#e0844a"]},"legend":{"title":null,"values":["Foot velocity","Hand force","Foot velocity SS","Hand force SS"]}},
    "strokeDash":{"field":"s","type":"nominal","scale":{"domain":["Foot velocity","Hand force","Foot velocity SS","Hand force SS"],"range":[[14,7],[14,7],[1,0],[1,0]]},"legend":{"title":null,"values":["Foot velocity","Hand force","Foot velocity SS","Hand force SS"]}},
    "strokeWidth":{"field":"s","type":"nominal","scale":{"type":"ordinal","domain":["Foot velocity","Hand force","Foot velocity SS","Hand force SS"],"range":[2,2,4.5,4.5]},"legend":{"title":null,"values":["Foot velocity","Hand force","Foot velocity SS","Hand force SS"]}},
    "detail":{"field":"g"}
   }}
 ],
 "resolve":{"scale":{"y":"independent"},"axis":{"x":"independent"}}
}
]
}
